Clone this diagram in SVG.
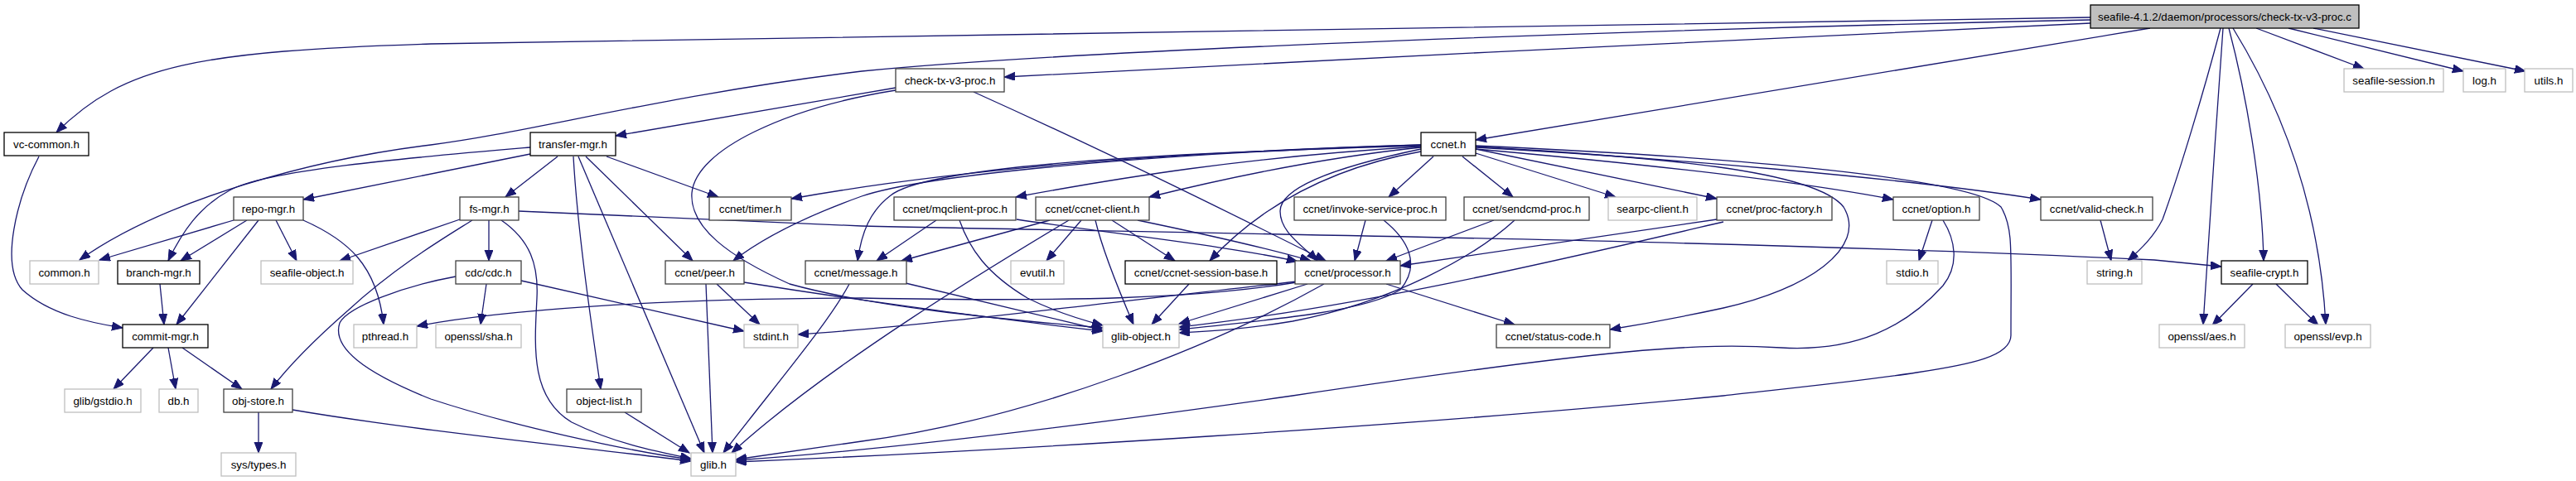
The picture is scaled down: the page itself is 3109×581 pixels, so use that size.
<svg xmlns="http://www.w3.org/2000/svg" width="3109" height="581" viewBox="0 0 3109 581">
<style>
.n rect{fill:#fff;stroke:#404040;stroke-width:1.3}
.n.b rect{stroke:#000}
.n.g rect{stroke:#bfbfbf}
.n.r rect{fill:#bfbfbf;stroke:#000}
.n text{font-family:"Liberation Sans",Arial,sans-serif;font-size:13.33px;text-anchor:middle;fill:#000}
#edges path{fill:none;stroke:#191970;stroke-width:1.3;marker-end:url(#a)}
</style>
<defs>
<marker id="a" markerUnits="userSpaceOnUse" markerWidth="14" markerHeight="11" refX="13" refY="5" orient="auto"><path d="M0,0 L13,5 L0,10 z" fill="#191970" stroke="#191970" stroke-width="1"/></marker>
</defs>
<rect width="3109" height="581" fill="#fff"/>
<g id="edges">
<path d="M2523,21 L520,53 C240,62 150,78 68,160"/>
<path d="M2523,24 C2000,35 1300,60 1040,86 C800,115 640,160 520,175 C380,192 200,240 96,314"/>
<path d="M2523,28 C2200,42 1600,73 1212,93"/>
<path d="M2595,34 L1781,169"/>
<path d="M2723,34 L2853,83"/>
<path d="M2762,34 L2973,86"/>
<path d="M2792,34 L3048,86"/>
<path d="M2680,34 C2660,110 2630,210 2610,265 C2600,285 2585,300 2568,315"/>
<path d="M2683,34 C2675,150 2665,290 2659,392"/>
<path d="M2690,34 C2710,110 2730,220 2732,315"/>
<path d="M2695,34 C2760,140 2800,260 2807,392"/>
<path d="M1081,106 L743,164"/>
<path d="M1081,109 C950,130 840,180 835,233 C832,275 880,310 953,343 C1050,370 1200,385 1331,396"/>
<path d="M1175,111 C1350,190 1500,265 1600,315"/>
<path d="M47,189 C20,240 0,320 27,350 C60,380 110,390 148,396"/>
<path d="M640,186 L366,241"/>
<path d="M640,178 C500,190 320,205 277,230 C240,250 220,280 203,315"/>
<path d="M673,189 L610,238"/>
<path d="M732,189 L867,238"/>
<path d="M692,189 C697,280 715,400 725,470"/>
<path d="M698,189 L850,547"/>
<path d="M707,189 L836,315"/>
<path d="M1715,175 C1400,184 1150,205 955,240"/>
<path d="M1715,177 C1500,190 1350,215 1226,238"/>
<path d="M1715,178 C1600,190 1480,215 1387,238"/>
<path d="M1715,175 C1400,185 1120,210 1040,237 C990,255 930,280 885,315"/>
<path d="M1715,176 C1400,185 1120,200 1075,236 C1050,255 1040,280 1035,315"/>
<path d="M1715,183 C1620,200 1530,240 1460,315"/>
<path d="M1715,180 C1620,200 1545,225 1545,255 C1545,280 1570,295 1590,315"/>
<path d="M1730,189 L1676,238"/>
<path d="M1765,189 L1826,238"/>
<path d="M1781,185 L1950,238"/>
<path d="M1781,180 L2072,240"/>
<path d="M1781,180 C1950,195 2150,215 2285,241"/>
<path d="M1781,178 C2000,190 2300,215 2463,241"/>
<path d="M1781,177 C2000,190 2190,205 2225,250 C2255,300 2180,350 2080,372 C2020,385 1980,392 1943,398"/>
<path d="M1781,176 C2100,190 2380,215 2415,250 C2430,275 2427,300 2427,405 C2427,430 2380,440 2313,450 C2250,460 2150,470 2080,478 C1700,515 1200,545 888,558"/>
<path d="M282,266 L120,314"/>
<path d="M298,266 L218,315"/>
<path d="M312,266 L213,392"/>
<path d="M333,266 L358,315"/>
<path d="M366,266 C420,290 455,320 463,392"/>
<path d="M555,265 L410,315"/>
<path d="M570,266 C540,285 480,320 420,375 C380,410 350,440 327,470"/>
<path d="M590,266 L590,315"/>
<path d="M605,266 C640,290 650,320 648,360 C645,420 640,480 690,510 C740,535 790,545 834,554"/>
<path d="M626,255 L1040,273 C1500,283 2100,290 2600,314 L2681,322"/>
<path d="M193,343 L198,392"/>
<path d="M185,420 L137,470"/>
<path d="M203,420 L212,470"/>
<path d="M220,420 L292,470"/>
<path d="M312,498 L312,547"/>
<path d="M353,495 C500,520 700,540 834,557"/>
<path d="M587,343 L580,392"/>
<path d="M629,339 L898,400"/>
<path d="M550,334 C490,345 420,370 410,390 C400,420 440,450 520,482 C620,515 760,545 834,555"/>
<path d="M865,343 L917,392"/>
<path d="M852,343 L860,547"/>
<path d="M898,341 C1050,365 1200,385 1331,400"/>
<path d="M1093,342 L1331,399"/>
<path d="M1025,343 C1000,390 940,460 873,547"/>
<path d="M1130,266 L1058,315"/>
<path d="M1158,266 C1170,300 1190,330 1240,360 C1270,375 1300,385 1331,393"/>
<path d="M1227,265 C1350,283 1500,300 1566,316"/>
<path d="M1267,266 L1088,315"/>
<path d="M1290,266 C1200,320 1000,440 883,547"/>
<path d="M1305,266 L1263,315"/>
<path d="M1322,266 C1330,300 1350,350 1368,392"/>
<path d="M1342,266 L1418,315"/>
<path d="M1373,266 C1450,282 1530,300 1582,315"/>
<path d="M1435,343 L1390,392"/>
<path d="M1673,343 L1828,392"/>
<path d="M1578,343 L1423,391"/>
<path d="M1598,343 C1470,415 1250,505 1040,533 L888,555"/>
<path d="M1565,340 C1300,370 1100,395 963,404"/>
<path d="M1565,341 C1450,360 1300,365 1040,360 C800,360 600,375 503,394"/>
<path d="M1648,266 L1635,315"/>
<path d="M1670,266 C1700,290 1715,320 1690,350 C1650,375 1550,385 1423,398"/>
<path d="M1803,266 L1673,315"/>
<path d="M1828,266 C1780,310 1680,365 1560,388 C1500,398 1460,400 1423,402"/>
<path d="M2072,265 L1690,321"/>
<path d="M2080,268 C1900,310 1650,370 1423,395"/>
<path d="M2332,266 L2316,315"/>
<path d="M2345,266 C2360,290 2365,320 2345,345 C2300,395 2240,425 2150,420 C2050,414 1950,420 1560,478 C1300,515 1050,545 888,556"/>
<path d="M2535,266 L2548,315"/>
<path d="M2719,343 L2670,393"/>
<path d="M2747,343 L2798,393"/>
<path d="M754,498 L832,547"/>
</g>
<g id="n0" class="n r"><rect x="2523" y="6" width="324" height="28"/><text x="2685" y="25">seafile-4.1.2/daemon/processors/check-tx-v3-proc.c</text></g>
<g id="n1" class="n"><rect x="1081" y="83" width="131" height="28"/><text x="1146.5" y="102">check-tx-v3-proc.h</text></g>
<g id="n2" class="n g"><rect x="2829" y="83" width="120" height="28"/><text x="2889" y="102">seafile-session.h</text></g>
<g id="n3" class="n g"><rect x="2973" y="83" width="51" height="28"/><text x="2998.5" y="102">log.h</text></g>
<g id="n4" class="n g"><rect x="3047" y="83" width="58" height="28"/><text x="3076" y="102">utils.h</text></g>
<g id="n5" class="n b"><rect x="5" y="160" width="102" height="28"/><text x="56" y="179">vc-common.h</text></g>
<g id="n6" class="n b"><rect x="640" y="160" width="103" height="28"/><text x="691.5" y="179">transfer-mgr.h</text></g>
<g id="n7" class="n b"><rect x="1715" y="160" width="66" height="28"/><text x="1748" y="179">ccnet.h</text></g>
<g id="n8" class="n"><rect x="282" y="238" width="84" height="28"/><text x="324" y="257">repo-mgr.h</text></g>
<g id="n9" class="n"><rect x="555" y="238" width="71" height="28"/><text x="590.5" y="257">fs-mgr.h</text></g>
<g id="n10" class="n"><rect x="856" y="238" width="99" height="28"/><text x="905.5" y="257">ccnet/timer.h</text></g>
<g id="n11" class="n"><rect x="1079" y="238" width="147" height="28"/><text x="1152.5" y="257">ccnet/mqclient-proc.h</text></g>
<g id="n12" class="n"><rect x="1250" y="238" width="137" height="28"/><text x="1318.5" y="257">ccnet/ccnet-client.h</text></g>
<g id="n13" class="n"><rect x="1562" y="238" width="183" height="28"/><text x="1653.5" y="257">ccnet/invoke-service-proc.h</text></g>
<g id="n14" class="n"><rect x="1767" y="238" width="151" height="28"/><text x="1842.5" y="257">ccnet/sendcmd-proc.h</text></g>
<g id="n15" class="n g"><rect x="1941" y="238" width="107" height="28"/><text x="1994.5" y="257">searpc-client.h</text></g>
<g id="n16" class="n"><rect x="2072" y="238" width="139" height="28"/><text x="2141.5" y="257">ccnet/proc-factory.h</text></g>
<g id="n17" class="n"><rect x="2285" y="238" width="104" height="28"/><text x="2337" y="257">ccnet/option.h</text></g>
<g id="n18" class="n"><rect x="2463" y="238" width="135" height="28"/><text x="2530.5" y="257">ccnet/valid-check.h</text></g>
<g id="n19" class="n g"><rect x="36" y="315" width="83" height="28"/><text x="77.5" y="334">common.h</text></g>
<g id="n20" class="n b"><rect x="142" y="315" width="99" height="28"/><text x="191.5" y="334">branch-mgr.h</text></g>
<g id="n21" class="n g"><rect x="315" y="315" width="111" height="28"/><text x="370.5" y="334">seafile-object.h</text></g>
<g id="n22" class="n"><rect x="550" y="315" width="79" height="28"/><text x="589.5" y="334">cdc/cdc.h</text></g>
<g id="n23" class="n"><rect x="803" y="315" width="95" height="28"/><text x="850.5" y="334">ccnet/peer.h</text></g>
<g id="n24" class="n"><rect x="972" y="315" width="122" height="28"/><text x="1033" y="334">ccnet/message.h</text></g>
<g id="n25" class="n g"><rect x="1220" y="315" width="64" height="28"/><text x="1252" y="334">evutil.h</text></g>
<g id="n26" class="n b"><rect x="1358" y="315" width="183" height="28"/><text x="1449.5" y="334">ccnet/ccnet-session-base.h</text></g>
<g id="n27" class="n"><rect x="1563" y="315" width="127" height="28"/><text x="1626.5" y="334">ccnet/processor.h</text></g>
<g id="n28" class="n g"><rect x="2277" y="315" width="62" height="28"/><text x="2308" y="334">stdio.h</text></g>
<g id="n29" class="n g"><rect x="2519" y="315" width="66" height="28"/><text x="2552" y="334">string.h</text></g>
<g id="n30" class="n b"><rect x="2681" y="315" width="104" height="28"/><text x="2733" y="334">seafile-crypt.h</text></g>
<g id="n31" class="n b"><rect x="148" y="392" width="103" height="28"/><text x="199.5" y="411">commit-mgr.h</text></g>
<g id="n32" class="n g"><rect x="427" y="392" width="76" height="28"/><text x="465" y="411">pthread.h</text></g>
<g id="n33" class="n g"><rect x="526" y="392" width="103" height="28"/><text x="577.5" y="411">openssl/sha.h</text></g>
<g id="n34" class="n g"><rect x="898" y="392" width="65" height="28"/><text x="930.5" y="411">stdint.h</text></g>
<g id="n35" class="n g"><rect x="1331" y="392" width="92" height="28"/><text x="1377" y="411">glib-object.h</text></g>
<g id="n36" class="n"><rect x="1806" y="392" width="137" height="28"/><text x="1874.5" y="411">ccnet/status-code.h</text></g>
<g id="n37" class="n g"><rect x="2606" y="392" width="103" height="28"/><text x="2657.5" y="411">openssl/aes.h</text></g>
<g id="n38" class="n g"><rect x="2758" y="392" width="103" height="28"/><text x="2809.5" y="411">openssl/evp.h</text></g>
<g id="n39" class="n g"><rect x="78" y="470" width="92" height="28"/><text x="124" y="489">glib/gstdio.h</text></g>
<g id="n40" class="n g"><rect x="192" y="470" width="47" height="28"/><text x="215.5" y="489">db.h</text></g>
<g id="n41" class="n"><rect x="270" y="470" width="83" height="28"/><text x="311.5" y="489">obj-store.h</text></g>
<g id="n42" class="n"><rect x="684" y="470" width="90" height="28"/><text x="729" y="489">object-list.h</text></g>
<g id="n43" class="n g"><rect x="267" y="547" width="90" height="28"/><text x="312" y="566">sys/types.h</text></g>
<g id="n44" class="n g"><rect x="834" y="547" width="54" height="28"/><text x="861" y="566">glib.h</text></g>
</svg>
